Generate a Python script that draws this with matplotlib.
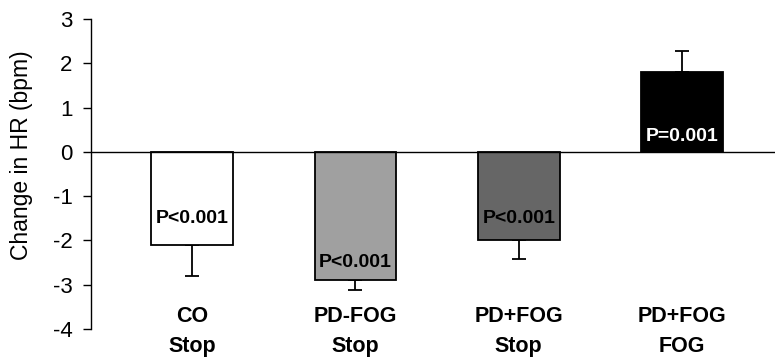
import matplotlib
matplotlib.use("Agg")
import matplotlib.pyplot as plt

# Mean change in heart rate per group / condition
groups = ["CO", "PD-FOG", "PD+FOG", "PD+FOG"]
conditions = ["Stop", "Stop", "Stop", "FOG"]
hr_change = [-2.1, -2.9, -2.0, 1.8]
hr_err = [0.7, 0.21, 0.43, 0.48]
p_labels = ["P<0.001", "P<0.001", "P<0.001", "P=0.001"]

# styling
bar_colors = ["#ffffff", "#a0a0a0", "#666666", "#000000"]
p_colors = ["black", "black", "black", "white"]
p_label_y = [-1.51, -2.5, -1.51, 0.34]

plt.rcParams["font.family"] = ["Liberation Sans", "DejaVu Sans"]
plt.rcParams["axes.unicode_minus"] = False

fig = plt.figure(figsize=(7.75, 3.64), dpi=100)
ax = fig.add_axes([91 / 775, 1 - 329 / 364, 1 - 91 / 775, (329 - 19) / 364])

x = list(range(len(hr_change)))
ax.bar(x, hr_change, width=0.5, color=bar_colors, edgecolor="black",
       linewidth=1.3, zorder=2)

# one-sided error bars pointing away from zero
lower = [e if v < 0 else 0 for v, e in zip(hr_change, hr_err)]
upper = [e if v >= 0 else 0 for v, e in zip(hr_change, hr_err)]
ax.errorbar(x, hr_change, yerr=[lower, upper], fmt="none", ecolor="black",
            elinewidth=1.3, capsize=4.7, capthick=1.3, zorder=1)

ax.axhline(0, color="black", linewidth=1.0, zorder=3)

for xi, txt, yy, c in zip(x, p_labels, p_label_y, p_colors):
    ax.text(xi, yy, txt, ha="center", va="center", fontsize=14,
            fontweight="bold", color=c, zorder=4)

for xi, g, cnd in zip(x, groups, conditions):
    ax.text(xi, -3.72, g, ha="center", va="center", fontsize=15.5,
            fontweight="bold", clip_on=False)
    ax.text(xi, -4.4, cnd, ha="center", va="center", fontsize=15.5,
            fontweight="bold", clip_on=False)

ax.set_xlim(-0.62, 3.57)
ax.set_ylim(-4, 3)
ax.set_yticks(range(-4, 4))
ax.set_xticks([])
ax.tick_params(axis="y", direction="out", length=5.8, width=1.0,
               labelsize=16, pad=7.5)
for s in ["top", "right", "bottom"]:
    ax.spines[s].set_visible(False)
ax.spines["left"].set_linewidth(1.0)

ax.set_ylabel("Change in HR (bpm)", fontsize=16.5)
ax.yaxis.set_label_coords(-0.085, 0.56)

fig.savefig("out.png", dpi=100)
